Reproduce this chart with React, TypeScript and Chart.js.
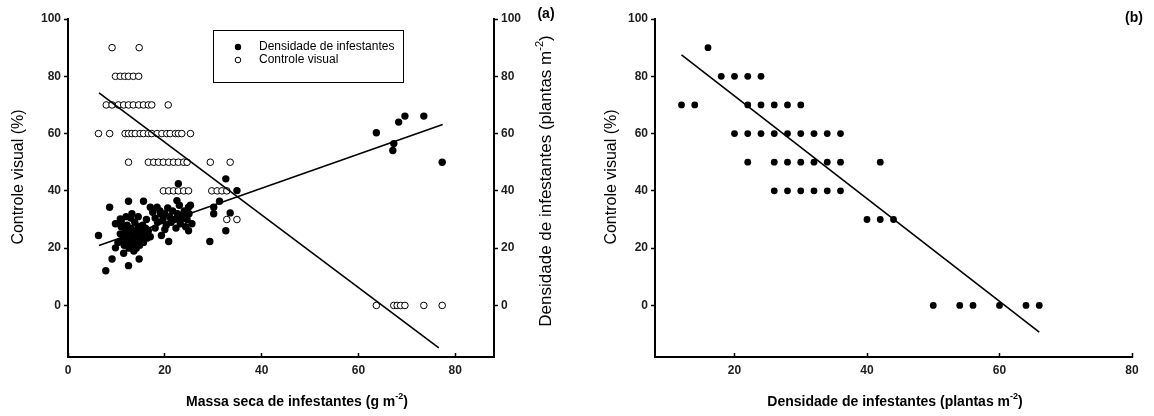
import React, { useEffect, useRef } from "react";
import { Chart, registerables } from "chart.js";
Chart.register(...registerables);

// ---------- Panel (a) data ----------
// Controle visual (%) vs massa seca (open circles, left axis)
const visualMassa = [
  9.1, 14.7,
  9.8, 10.8, 11.7, 12.5, 13.5, 14.6,
  7.9, 9.1, 10.4, 11.5, 12.5, 13.5, 14.6, 15.6, 16.6, 17.3, 20.7,
  6.3, 8.6, 11.8, 12.5, 13.2, 13.9, 14.9, 15.6, 16.6, 17.3, 18.4, 19.4, 20.4, 21.1, 22.2, 22.8, 23.5, 25.3,
  12.5, 16.6, 17.7, 18.7, 19.7, 20.8, 21.8, 22.8, 23.9, 24.6, 29.4, 33.5,
  19.7, 20.8, 21.8, 22.8, 23.9, 24.9, 29.7, 30.8, 31.8, 32.8,
  32.8, 34.9,
  63.7, 67.3, 68.0, 68.7, 69.6, 73.5, 77.3,
];
const visualPct = [
  90, 90,
  80, 80, 80, 80, 80, 80,
  70, 70, 70, 70, 70, 70, 70, 70, 70, 70, 70,
  60, 60, 60, 60, 60, 60, 60, 60, 60, 60, 60, 60, 60, 60, 60, 60, 60, 60,
  50, 50, 50, 50, 50, 50, 50, 50, 50, 50, 50, 50,
  40, 40, 40, 40, 40, 40, 40, 40, 40, 40,
  30, 30,
  0, 0, 0, 0, 0, 0, 0,
];
// Densidade de infestantes vs massa seca (filled circles, right axis)
const densMassa = [
  6.3, 7.8, 9.1, 9.8, 11.5, 12.5, 14.7, 8.6, 9.8, 10.8, 12.5, 15.6, 13.2, 17.0, 18.4, 19.1,
  19.3, 20.8, 22.8, 22.5, 23.2, 24.9, 24.9, 29.3, 30.1, 30.1, 31.3, 32.6, 32.6, 33.5, 34.9,
  63.7, 68.3, 69.6, 73.5, 67.3, 67.1, 77.3,
  10.3, 10.8, 11.0, 11.3, 11.6, 11.8, 12.0, 12.2, 12.4, 12.6, 12.8, 13.0, 13.1, 13.3, 13.5, 13.6,
  13.8, 14.0, 14.1, 14.3, 14.5, 14.6, 14.8, 15.0, 15.2, 15.4, 15.6, 15.8, 16.0, 16.3, 16.6, 17.0,
  13.0, 12.0, 14.5, 16.2, 11.0, 13.6,
  17.5, 18.0, 18.5, 19.0, 19.6, 20.0, 20.3, 20.6, 21.0, 21.3, 21.6, 22.0, 22.3, 22.6, 23.0, 23.3,
  23.6, 24.0, 24.3, 24.6, 25.0, 25.3, 25.6, 20.0, 18.0,
];
const densPlantas = [
  24.4, 12.1, 16.2, 20.1, 18.2, 13.9, 16.2, 34.3, 28.5, 30.2, 36.4, 36.4, 32.0, 34.3, 34.3, 32.0,
  24.4, 22.3, 42.5, 36.6, 28.5, 26.1, 34.3, 22.3, 34.3, 32.0, 36.4, 44.2, 26.1, 32.3, 40.1,
  60.3, 64.0, 66.1, 66.1, 56.5, 54.1, 50.0,
  22, 25, 27.5, 23, 21, 26, 24, 28, 22, 20, 25.5, 27, 23, 21, 26, 24,
  29, 22, 20, 25, 27.5, 23, 21, 26, 24, 28, 22, 25, 27, 23.5, 26, 24,
  30.5, 31, 31, 30, 29.5, 19,
  32.5, 30.5, 29, 33, 30, 32, 28, 34, 31, 29, 33, 30, 27, 32, 35, 30,
  31.5, 33, 27.5, 30, 32, 35, 28.5, 26.5, 27,
];
// Regression lines (a)
const fitVisualX = [6.4, 76.6];
const fitVisualY = [74.2, -14.8];
const fitDensX = [6.4, 77.4];
const fitDensY = [20.9, 63.2];

// ---------- Panel (b) data ----------
const densB = [
  16,
  18, 20, 22, 24,
  12, 14, 22, 24, 26, 28, 30,
  20, 22, 24, 26, 28, 30, 32, 34, 36,
  22, 26, 28, 30, 32, 34, 36, 42,
  26, 28, 30, 32, 34, 36,
  40, 42, 44,
  50, 54, 56, 60, 64, 66,
];
const visualB = [
  90,
  80, 80, 80, 80,
  70, 70, 70, 70, 70, 70, 70,
  60, 60, 60, 60, 60, 60, 60, 60, 60,
  50, 50, 50, 50, 50, 50, 50, 50,
  40, 40, 40, 40, 40, 40,
  30, 30, 30,
  0, 0, 0, 0, 0, 0,
];
const fitBX = [12, 66];
const fitBY = [87.5, -9.3];

// ---------- Ticks ----------
const yTicks = [0, 20, 40, 60, 80, 100];
const xTicksA = [0, 20, 40, 60, 80];
const xTicksB = [20, 40, 60, 80];

const FAMILY = "'Liberation Sans', Arial, Helvetica, sans-serif";

type Part = { t: string; size: number; weight: string; dy: number };

function drawRich(ctx: CanvasRenderingContext2D, x: number, y: number, parts: Part[], rot: number) {
  ctx.save();
  ctx.translate(x, y);
  ctx.rotate(rot);
  ctx.fillStyle = "#000";
  ctx.textBaseline = "middle";
  ctx.textAlign = "left";
  const widths = parts.map((p) => {
    ctx.font = `${p.weight} ${p.size}px ${FAMILY}`;
    return ctx.measureText(p.t).width;
  });
  const total = widths.reduce((a, b) => a + b, 0);
  let cx = -total / 2;
  parts.forEach((p, i) => {
    ctx.font = `${p.weight} ${p.size}px ${FAMILY}`;
    ctx.fillText(p.t, cx, p.dy);
    cx += widths[i];
  });
  ctx.restore();
}

function supTitle(main: string, sup: string, tail: string, weight: string, size: number): Part[] {
  const s = Math.round(size * 0.64);
  return [
    { t: main, size, weight, dy: 0 },
    { t: sup, size: s, weight, dy: -Math.round(size * 0.36) },
    { t: tail, size, weight, dy: 0 },
  ];
}

const yScale = (position: string, width: number, withBorder: boolean) => ({
  type: "linear",
  position,
  min: -18,
  max: 100,
  afterBuildTicks: (s: any) => {
    s.ticks = yTicks.map((v) => ({ value: v }));
  },
  afterFit: (s: any) => {
    s.width = width;
  },
  grid: { drawOnChartArea: false, drawTicks: true, tickLength: 4, tickColor: "#000", tickWidth: 1.5 },
  border: { display: withBorder, color: "#000", width: 2 },
  ticks: { font: { family: FAMILY, size: 12, weight: "bold" }, color: "#1e1e1e", padding: 3 },
});

const xScale = (min: number, max: number, ticks: number[]) => ({
  type: "linear",
  position: "bottom",
  min,
  max,
  afterBuildTicks: (s: any) => {
    s.ticks = ticks.map((v) => ({ value: v }));
  },
  afterFit: (s: any) => {
    s.height = 59;
  },
  grid: { drawOnChartArea: false, drawTicks: true, tickLength: -4, tickColor: "#000", tickWidth: 1.5 },
  border: { display: true, color: "#000", width: 2 },
  ticks: { font: { family: FAMILY, size: 12, weight: "bold" }, color: "#1e1e1e", padding: 10, maxRotation: 0 },
});

const pts = (xs: number[], ys: number[]) => xs.map((x, i) => ({ x, y: ys[i] }));

function PanelA() {
  const ref = useRef<HTMLCanvasElement>(null);
  useEffect(() => {
    const textPlugin = {
      id: "textA",
      afterDraw(chart: any) {
        const ctx = chart.ctx as CanvasRenderingContext2D;
        drawRich(ctx, 19, 177, [{ t: "Controle visual (%)", size: 16, weight: "normal", dy: 0 }], -Math.PI / 2);
        drawRich(ctx, 546, 181, supTitle("Densidade de infestantes (plantas m", "-2", ")", "normal", 17), -Math.PI / 2);
        drawRich(ctx, 297, 402, supTitle("Massa seca de infestantes (g m", "-2", ")", "bold", 14), 0);
        drawRich(ctx, 546, 14, [{ t: "(a)", size: 14, weight: "bold", dy: 0 }], 0);
        // legend
        ctx.save();
        ctx.strokeStyle = "#000";
        ctx.lineWidth = 1;
        ctx.strokeRect(213.5, 30.5, 190, 52);
        ctx.fillStyle = "#000";
        ctx.beginPath();
        ctx.arc(238, 47, 3.2, 0, Math.PI * 2);
        ctx.fill();
        ctx.beginPath();
        ctx.arc(238, 60, 2.8, 0, Math.PI * 2);
        ctx.fillStyle = "#fff";
        ctx.fill();
        ctx.stroke();
        ctx.fillStyle = "#000";
        ctx.font = `normal 12px ${FAMILY}`;
        ctx.textBaseline = "middle";
        ctx.textAlign = "left";
        ctx.fillText("Densidade de infestantes", 259, 47);
        ctx.fillText("Controle visual", 259, 60);
        ctx.restore();
      },
    };
    const chart = new Chart(ref.current as HTMLCanvasElement, {
      type: "scatter",
      data: {
        datasets: [
          {
            label: "fitVisual",
            data: pts(fitVisualX, fitVisualY),
            showLine: true,
            pointRadius: 0,
            borderColor: "#000",
            borderWidth: 1.6,
            yAxisID: "y",
            order: 0,
          },
          {
            label: "fitDens",
            data: pts(fitDensX, fitDensY),
            showLine: true,
            pointRadius: 0,
            borderColor: "#000",
            borderWidth: 1.6,
            yAxisID: "y1",
            order: 0,
          },
          {
            label: "Controle visual",
            data: pts(visualMassa, visualPct),
            pointRadius: 3.3,
            backgroundColor: "#fff",
            borderColor: "#000",
            borderWidth: 1,
            yAxisID: "y",
            order: 1,
          },
          {
            label: "Densidade de infestantes",
            data: pts(densMassa, densPlantas),
            pointRadius: 3.7,
            backgroundColor: "#000",
            borderWidth: 0,
            yAxisID: "y1",
            order: 2,
          },
        ],
      },
      options: {
        animation: false,
        responsive: false,
        layout: { padding: { top: 19, left: 0, right: 0, bottom: 0 } },
        plugins: { legend: { display: false }, tooltip: { enabled: false } },
        scales: {
          x: xScale(0, 88, xTicksA),
          y: yScale("left", 68, true),
          y1: yScale("right", 86, true),
        } as any,
      },
      plugins: [textPlugin],
    } as any);
    return () => chart.destroy();
  }, []);
  return <canvas ref={ref} width={580} height={416} style={{ position: "absolute", left: 0, top: 0 }} />;
}

function PanelB() {
  const ref = useRef<HTMLCanvasElement>(null);
  useEffect(() => {
    const textPlugin = {
      id: "textB",
      afterDraw(chart: any) {
        const ctx = chart.ctx as CanvasRenderingContext2D;
        drawRich(ctx, 32, 177, [{ t: "Controle visual (%)", size: 16, weight: "normal", dy: 0 }], -Math.PI / 2);
        drawRich(ctx, 315, 402, supTitle("Densidade de infestantes (plantas m", "-2", ")", "bold", 14), 0);
        drawRich(ctx, 554, 18, [{ t: "(b)", size: 14, weight: "bold", dy: 0 }], 0);
      },
    };
    const chart = new Chart(ref.current as HTMLCanvasElement, {
      type: "scatter",
      data: {
        datasets: [
          {
            label: "fit",
            data: pts(fitBX, fitBY),
            showLine: true,
            pointRadius: 0,
            borderColor: "#000",
            borderWidth: 1.6,
            order: 0,
          },
          {
            label: "Controle visual",
            data: pts(densB, visualB),
            pointRadius: 3.4,
            backgroundColor: "#000",
            borderWidth: 0,
            order: 1,
          },
        ],
      },
      options: {
        animation: false,
        responsive: false,
        layout: { padding: { top: 19, left: 0, right: 22, bottom: 0 } },
        plugins: { legend: { display: false }, tooltip: { enabled: false } },
        scales: {
          x: xScale(8, 80, xTicksB),
          y: yScale("left", 75, true),
        } as any,
      },
      plugins: [textPlugin],
    } as any);
    return () => chart.destroy();
  }, []);
  return <canvas ref={ref} width={574} height={416} style={{ position: "absolute", left: 580, top: 0 }} />;
}

export default function App() {
  return (
    <div style={{ position: "fixed", left: 0, top: 0, width: 1154, height: 416, background: "#fff" }}>
      <PanelA />
      <PanelB />
    </div>
  );
}
